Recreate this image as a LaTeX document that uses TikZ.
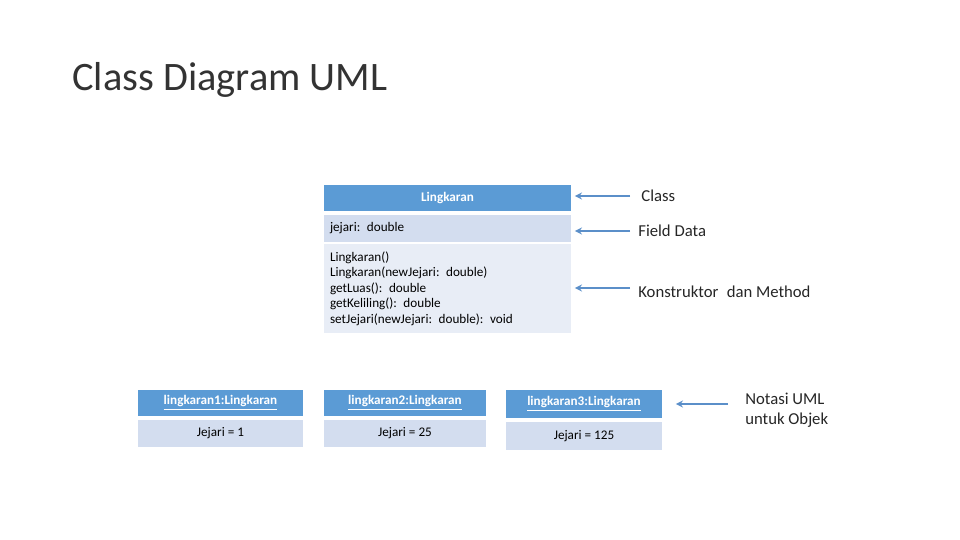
\documentclass[tikz,border=0pt]{standalone}
\usepackage{fontspec}
\setmainfont{Carlito}
\definecolor{headblue}{HTML}{5B9BD5}
\definecolor{fieldblue}{HTML}{D3DDEF}
\definecolor{methblue}{HTML}{E8EDF6}
\definecolor{arrowblue}{HTML}{5B8FC9}
\begin{document}
\begin{tikzpicture}
	[x=0.02cm,y=-0.02cm,inner sep=0pt,
	 head/.style={fill=headblue,text=white,font=\bfseries\fontsize{7.5}{9}\selectfont,minimum height=26*0.02cm},
	 body/.style={fill=fieldblue,font=\fontsize{7.5}{9}\selectfont},
	 note/.style={anchor=west,font=\fontsize{9.5}{11.5}\selectfont,text=black!85},
	 arrow/.style={->,>=stealth,arrowblue,thick,shorten >=2}]

	\path [use as bounding box] (0,0) rectangle (960,540);

	\node[anchor=west,font=\fontsize{23}{27}\selectfont,text=black!80] (title) at (72,80) {Class Diagram UML};

	% class box
	\node[head,minimum width=247*0.02cm] (cname) at (447.5,198) {Lingkaran};
	\node[body,minimum width=247*0.02cm,minimum height=27*0.02cm,text width=235*0.02cm,align=left] (cfield) at (447.5,228.5) {jejari: double\\[3pt]};
	\node[body,fill=methblue,minimum width=247*0.02cm,minimum height=89*0.02cm,text width=235*0.02cm,align=left,font=\fontsize{7.5}{8.8}\selectfont] (cmeth) at (447.5,288.5)
		{Lingkaran()\\Lingkaran(newJejari: double)\\getLuas(): double\\getKeliling(): double\\setJejari(newJejari: double): void};

	% object boxes
	\node[head,minimum width=165*0.02cm] (o1name) at (220.5,403) {\underline{lingkaran1:Lingkaran}};
	\node[body,minimum width=165*0.02cm,minimum height=27*0.02cm] (o1val) at (220.5,433.5) {Jejari = 1};
	\node[head,minimum width=162*0.02cm] (o2name) at (405,403) {\underline{lingkaran2:Lingkaran}};
	\node[body,minimum width=162*0.02cm,minimum height=27*0.02cm] (o2val) at (405,433.5) {Jejari = 25};
	\node[head,minimum width=156*0.02cm,minimum height=28*0.02cm] (o3name) at (584,404) {\underline{lingkaran3:Lingkaran}};
	\node[body,minimum width=156*0.02cm,minimum height=28*0.02cm] (o3val) at (584,436) {Jejari = 125};

	% notes
	\node[note] (nclass) at (641,196) {Class};
	\node[note] (nfield) at (638,231) {Field Data};
	\node[note] (nmeth)  at (638,292) {Konstruktor\; dan Method};
	\node[note,align=left] (nobj) at (745,410) {Notasi UML\\untuk Objek};

	\coordinate (aclass) at (630,196);
	\coordinate (afield) at (630,231);
	\coordinate (ameth)  at (630,288);
	\coordinate (aobj)   at (728,404);

	\draw[arrow] (aclass) -- (cname.east |- aclass);
	\draw[arrow] (afield) -- (cfield.east |- afield);
	\draw[arrow] (ameth)  -- (cmeth.east |- ameth);
	\draw[arrow] (aobj)   -- ([xshift=10*0.02cm]o3name.east |- aobj);
\end{tikzpicture}
\end{document}
